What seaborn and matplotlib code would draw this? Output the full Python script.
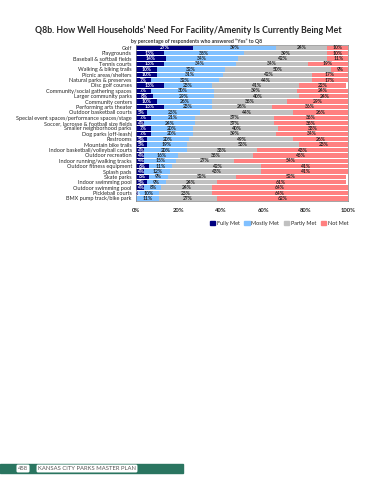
import matplotlib
matplotlib.use("Agg")
import matplotlib.pyplot as plt
import matplotlib.patches as mpatches
import pandas as pd
import seaborn as sns

categories = [
    "Golf", "Playgrounds", "Baseball & softball fields", "Tennis courts",
    "Walking & biking trails", "Picnic areas/shelters", "Natural parks & preserves",
    "Disc golf courses", "Community/social gathering spaces", "Larger community parks",
    "Community centers", "Performing arts theater", "Outdoor basketball courts",
    "Special event spaces/performance spaces/stage",
    "Soccer, lacrosse & football size fields", "Smaller neighborhood parks",
    "Dog parks (off-leash)", "Restrooms", "Mountain bike trails",
    "Indoor basketball/volleyball courts", "Outdoor recreation",
    "Indoor running/walking tracks", "Outdoor fitness equipment", "Splash pads",
    "Skate parks", "Indoor swimming pool", "Outdoor swimming pool",
    "Pickleball courts", "BMX pump track/bike park",
]
fully_met = [27, 13, 14, 13, 10, 10, 7, 13, 7, 8, 10, 13, 5, 7, 4, 7, 7, 5, 5, 4, 4, 4, 6, 4, 6, 5, 4, 1, 0]
mostly_met = [39, 38, 34, 34, 32, 31, 32, 23, 30, 29, 26, 23, 25, 21, 24, 20, 20, 20, 19, 20, 16, 15, 11, 12, 9, 9, 8, 10, 11]
partly_met = [24, 39, 42, 34, 50, 42, 44, 41, 39, 40, 35, 28, 44, 37, 37, 40, 39, 49, 53, 33, 35, 27, 42, 43, 32, 24, 24, 25, 27]
not_met = [10, 10, 11, 19, 9, 17, 17, 22, 24, 24, 29, 36, 26, 35, 35, 33, 34, 26, 23, 43, 45, 54, 41, 41, 52, 61, 64, 64, 62]

series = ["Fully Met", "Mostly Met", "Partly Met", "Not Met"]
colors = ["#000080", "#80c0ff", "#c0c0c0", "#ff8080"]
text_colors = ["white", "#222222", "#222222", "#222222"]

df = pd.DataFrame({"Category": categories, "Fully Met": fully_met,
                   "Mostly Met": mostly_met, "Partly Met": partly_met,
                   "Not Met": not_met})
cum = df[series].cumsum(axis=1)

sns.set_style("white")
plt.rcParams["font.family"] = ["Lato", "DejaVu Sans"]

fig = plt.figure(figsize=(3.7, 4.8), dpi=100)
ax = fig.add_axes([0.3676, 0.581, 0.5730, 0.325])

# draw cumulative bars from the back to the front
for s, c in reversed(list(zip(series, colors))):
    sns.barplot(data=cum.assign(Category=df["Category"]), y="Category", x=s,
                color=c, width=0.82, errorbar=None, ax=ax, saturation=1,
                edgecolor="none")

for i, cat in enumerate(categories):
    for s, tc in zip(series, text_colors):
        v = df.loc[i, s]
        if v <= 0:
            continue
        center = cum.loc[i, s] - v / 2
        ax.text(center, i, f"{v}%", ha="center", va="center", fontsize=3.6,
                fontweight="bold", color=tc)

ax.set_xlim(0, 100)
ax.set_xticks([0, 20, 40, 60, 80, 100])
ax.set_xticklabels([f"{t}%" for t in [0, 20, 40, 60, 80, 100]], fontsize=4.2,
                   fontweight="bold")
ax.tick_params(axis="y", labelsize=4.0, length=0, pad=3)
ax.tick_params(axis="x", length=0, pad=5)
ax.set_xlabel("")
ax.set_ylabel("")
for sp in ax.spines.values():
    sp.set_color("#808080")
    sp.set_linewidth(0.5)

handles = [mpatches.Patch(color=c, label=s) for s, c in zip(series, colors)]
fig.legend(handles=handles, loc="center right", bbox_to_anchor=(0.955, 0.535),
           ncol=4, frameon=False, fontsize=4.0, handlelength=1.0,
           handleheight=1.0, handletextpad=0.3, columnspacing=0.8)

fig.text(0.51, 0.937,
         "Q8b. How Well Households\u2019 Need For Facility/Amenity Is Currently Being Met",
         ha="center", va="center", fontsize=6.3, fontweight="bold")
fig.text(0.53, 0.914, "by percentage of respondents who answered \u201cYes\u201d to Q8",
         ha="center", va="center", fontsize=3.7, fontweight="bold", color="#333333")

# footer band
fig.patches.append(mpatches.Rectangle((0, 7 / 480), 183 / 370, 9 / 480,
                                      transform=fig.transFigure,
                                      color="#2a7560", zorder=0))
fig.text(23 / 370, 11.5 / 480, "458", ha="center", va="center", fontsize=4.2,
         color="#555555",
         bbox=dict(boxstyle="round,pad=0.25", fc="white", ec="none"))
fig.text(87 / 370, 11.5 / 480, "KANSAS CITY PARKS MASTER PLAN", ha="center",
         va="center", fontsize=4.2, color="#555555",
         bbox=dict(boxstyle="round,pad=0.25", fc="white", ec="none"))

fig.savefig("out.png", dpi=100, facecolor="white")
